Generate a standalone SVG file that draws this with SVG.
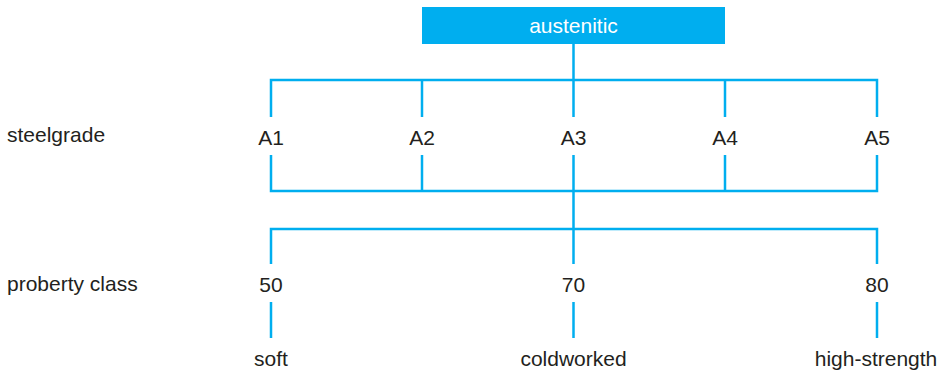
<svg xmlns="http://www.w3.org/2000/svg" width="942" height="371" viewBox="0 0 942 371">
<style>
.t{font-family:"Liberation Sans",Arial,sans-serif;font-size:21px;fill:#231f20}
.c{text-anchor:middle}
.w{fill:#ffffff}
.ln{fill:none;stroke:#00aeef;stroke-width:2.5;stroke-linejoin:miter;stroke-linecap:butt}
</style>
<rect width="942" height="371" fill="#ffffff"/>
<g id="connectors">
<path class="ln" d="M573.5 44 V80"/>
<path class="ln" d="M271 117 V80 H877 V117"/>
<path class="ln" d="M422 80 V117 M573.5 80 V117 M725 80 V117"/>
<path class="ln" d="M271 155 V191 H877 V155"/>
<path class="ln" d="M422 155 V191 M573.5 155 V229 M725 155 V191"/>
<path class="ln" d="M271 264 V229 H877 V264"/>
<path class="ln" d="M573.5 229 V264"/>
<path class="ln" d="M271 302 V338 M573.5 302 V338 M877 302 V338"/>
</g>
<g id="austenitic">
<rect x="422" y="7" width="303" height="37" fill="#00aeef"/>
<text class="t c w" x="573.5" y="32.5">austenitic</text>
</g>
<g id="row-labels">
<text class="t" x="7" y="142">steelgrade</text>
<text class="t" x="7" y="290.5">proberty class</text>
</g>
<g id="A1"><text class="t c" x="271" y="144.5">A1</text></g>
<g id="A2"><text class="t c" x="422" y="144.5">A2</text></g>
<g id="A3"><text class="t c" x="573.5" y="144.5">A3</text></g>
<g id="A4"><text class="t c" x="725" y="144.5">A4</text></g>
<g id="A5"><text class="t c" x="877" y="144.5">A5</text></g>
<g id="c50"><text class="t c" x="271" y="291.5">50</text></g>
<g id="c70"><text class="t c" x="573.5" y="291.5">70</text></g>
<g id="c80"><text class="t c" x="877" y="291.5">80</text></g>
<g id="soft"><text class="t c" x="271" y="365.5">soft</text></g>
<g id="coldworked"><text class="t c" x="573.5" y="365.5">coldworked</text></g>
<g id="high-strength"><text class="t c" x="876" y="365.5">high-strength</text></g>
</svg>
